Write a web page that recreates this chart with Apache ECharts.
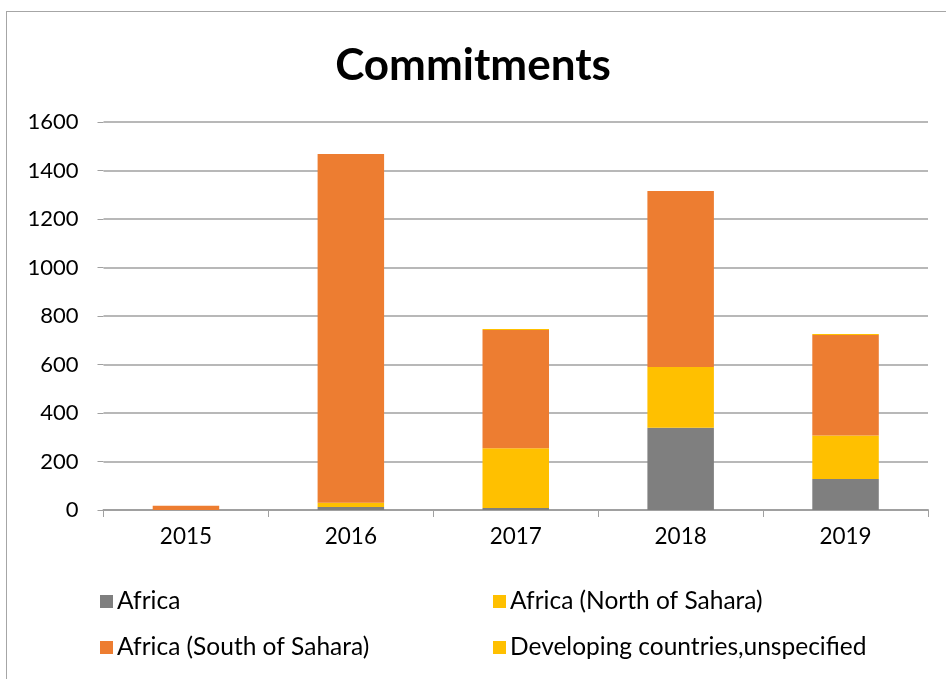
<!DOCTYPE html>
<html>
<head>
<meta charset="utf-8">
<script src="https://cdn.jsdelivr.net/npm/echarts@6/dist/echarts.min.js"></script>
<style>
  html, body { margin: 0; padding: 0; background: #fff; }
  #frame { position: absolute; left: 6px; top: 11px; width: 950px; height: 700px; border: 1px solid #a6a6a6; box-sizing: border-box; }
  #chart { position: absolute; left: 0; top: 0; width: 946px; height: 679px; }
</style>
</head>
<body>
<div id="frame"></div>
<div id="chart"></div>
<script>
// Commitments by region, stacked per year
const years = ['2015', '2016', '2017', '2018', '2019'];
const africa = [0, 12, 8, 339, 128];
const africaNorth = [0, 18, 247, 251, 179];
const africaSouth = [18, 1438, 487, 725, 415];
const developingUnspecified = [0, 0, 4, 0, 4];
const yTicks = [0, 200, 400, 600, 800, 1000, 1200, 1400, 1600];

const seriesNames = ['Africa', 'Africa (North of Sahara)', 'Africa (South of Sahara)', 'Developing countries,unspecified'];
const seriesData = [africa, africaNorth, africaSouth, developingUnspecified];
const colors = ['#7f7f7f', '#ffc000', '#ed7d31', '#ffc000'];

const font = 'Lato, "Open Sans", sans-serif';
const legendPos = [
  { left: 100, top: 589 },
  { left: 493, top: 589 },
  { left: 100, top: 635 },
  { left: 493, top: 635 }
];

const chart = echarts.init(document.getElementById('chart'), null, { renderer: 'canvas' });
chart.setOption({
  animation: false,
  color: colors,
  title: {
    text: 'Commitments',
    left: 'center',
    top: 39,
    textStyle: { fontFamily: font, fontWeight: 'bold', fontSize: 44, color: '#000' }
  },
  legend: seriesNames.map((n, i) => ({
    data: [n],
    left: legendPos[i].left,
    top: legendPos[i].top,
    icon: 'rect',
    itemWidth: 13,
    itemHeight: 13,
    itemGap: 0,
    padding: 0,
    selectedMode: false,
    textStyle: { fontFamily: font, fontSize: 24.5, color: '#000', padding: [0, 0, 0, -1] }
  })),
  grid: { left: 103.5, right: 18, top: 122, bottom: 169, containLabel: false },
  xAxis: {
    type: 'category',
    data: years,
    axisLine: { show: true, lineStyle: { color: '#a0a0a0', width: 2 } },
    axisTick: { show: true, length: 7, lineStyle: { color: '#a0a0a0', width: 1 } },
    axisLabel: { fontFamily: font, fontSize: 22.5, color: '#000', margin: 15 }
  },
  yAxis: {
    type: 'value',
    min: 0,
    max: yTicks[yTicks.length - 1],
    interval: 200,
    axisLine: { show: false },
    axisTick: { show: true, length: 6, lineStyle: { color: '#a0a0a0', width: 1 } },
    splitLine: { show: true, lineStyle: { color: '#a0a0a0', width: 1.5 } },
    axisLabel: { fontFamily: font, fontSize: 22, color: '#000', margin: 25, formatter: v => String(v) }
  },
  series: seriesNames.map((n, i) => ({
    name: n,
    type: 'bar',
    stack: 'total',
    barWidth: 66.5,
    data: seriesData[i],
    itemStyle: { color: colors[i] }
  }))
});
</script>
</body>
</html>
